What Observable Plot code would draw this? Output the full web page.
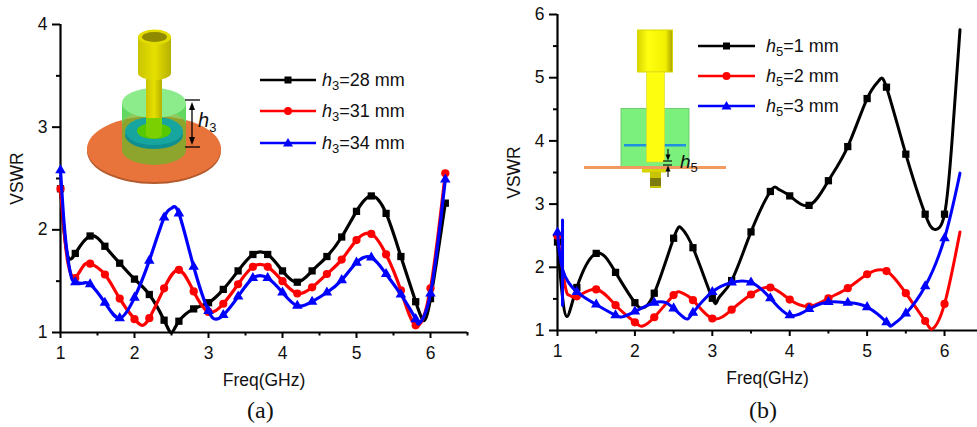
<!DOCTYPE html>
<html><head><meta charset="utf-8">
<script src="https://cdn.jsdelivr.net/npm/d3@7"></script>
<script src="https://cdn.jsdelivr.net/npm/@observablehq/plot@0.6"></script>
<style>
html,body{margin:0;padding:0;background:#fff;width:977px;height:427px;overflow:hidden}
#stage{position:relative;width:977px;height:427px;font-family:"Liberation Sans",Arial,sans-serif}
#stage>svg{position:absolute;top:0}
.cap{position:absolute;font:24px "Liberation Serif",serif;color:#111;top:397px}
</style></head><body><div id="stage"></div>
<script>
// Panel (a): h3 sweep
const a28x=[1,1.05,1.1,1.15,1.2,1.4,1.6,1.8,2,2.2,2.4,2.5,2.6,2.8,3,3.2,3.4,3.6,3.8,4,4.2,4.4,4.6,4.8,5,5.2,5.4,5.6,5.8,5.9,6,6.2];
const a28y=[2.4,1.98,1.74,1.72,1.77,1.94,1.84,1.675,1.52,1.37,1.12,1.0,1.11,1.23,1.29,1.42,1.6,1.76,1.76,1.6,1.49,1.6,1.74,1.93,2.18,2.33,2.16,1.74,1.3,1.12,1.33,2.26];
const a31x=[1,1.05,1.1,1.15,1.2,1.3,1.4,1.6,1.8,2,2.1,2.2,2.4,2.6,2.8,3,3.2,3.4,3.6,3.8,4,4.2,4.4,4.6,4.8,5,5.2,5.4,5.6,5.8,6,6.2];
const a31y=[2.4,1.98,1.68,1.55,1.53,1.64,1.67,1.565,1.33,1.13,1.07,1.14,1.43,1.61,1.4,1.2,1.28,1.47,1.64,1.64,1.5,1.38,1.44,1.57,1.71,1.9,1.96,1.76,1.41,1.07,1.43,2.55];
const a34x=[1,1.05,1.1,1.15,1.2,1.3,1.4,1.6,1.8,2,2.2,2.4,2.5,2.6,2.8,3,3.1,3.2,3.4,3.6,3.8,4,4.2,4.4,4.6,4.8,5,5.2,5.4,5.6,5.8,5.85,6,6.2];
const a34y=[2.58,2.05,1.72,1.53,1.49,1.48,1.47,1.29,1.14,1.34,1.7,2.12,2.21,2.16,1.64,1.21,1.13,1.17,1.35,1.53,1.53,1.39,1.26,1.3,1.39,1.51,1.68,1.73,1.57,1.37,1.13,1.09,1.38,2.49];
// Panel (b): h5 sweep
const b1x=[1,1.05,1.12,1.25,1.5,1.75,2,2.1,2.25,2.5,2.6,2.75,3,3.08,3.25,3.5,3.75,3.85,4,4.25,4.5,4.75,5,5.15,5.25,5.5,5.75,5.87,6,6.1,6.2];
const b1y=[2.4,1.7,1.22,1.68,2.22,1.92,1.44,1.36,1.59,2.46,2.62,2.31,1.51,1.51,1.79,2.56,3.2,3.24,3.13,2.98,3.37,3.91,4.67,4.95,4.85,3.79,2.84,2.6,2.84,4.05,5.76];
const b2x=[1,1.1,1.15,1.25,1.5,1.75,2,2.1,2.25,2.5,2.6,2.75,3,3.25,3.5,3.75,4,4.25,4.5,4.75,5,5.25,5.5,5.75,5.85,6,6.2];
const b2y=[2.5,1.7,1.56,1.54,1.65,1.4,1.13,1.07,1.21,1.56,1.6,1.48,1.19,1.33,1.57,1.68,1.49,1.38,1.51,1.67,1.89,1.94,1.59,1.15,1.03,1.42,2.56];
const b3x=[1,1.07,1.25,1.5,1.75,1.85,2,2.25,2.4,2.5,2.65,2.75,3,3.25,3.5,3.75,4,4.25,4.5,4.75,5,5.25,5.32,5.5,5.75,6,6.2];
const b3y=[2.55,1.95,1.61,1.41,1.24,1.22,1.3,1.44,1.44,1.35,1.19,1.28,1.61,1.76,1.76,1.51,1.24,1.34,1.45,1.44,1.37,1.13,1.08,1.27,1.7,2.46,3.49];
const spikeX=[1.065,1.065];
const spikeY=[1.4,2.75];
const colors=["#000000","#ff0000","#0000ff"];
const symbols=["square","circle","triangle"];
const sizes=[4.1,4.1,3.9];
const labelsA=["28","31","34"];
const labelsB=["1","2","3"];
const ticksMajorA=[1,2,3,4,5,6];
const ticksMinorA=[1.5,2.5,3.5,4.5,5.5,6.5];
const yMajorA=[1,2,3,4];
const yMinorA=[1.5,2.5,3.5];
const ticksMinorB=[1.5,2.5,3.5,4.5,5.5];
const yMajorB=[1,2,3,4,5,6];
const yMinorB=[1.5,2.5,3.5,4.5,5.5];

function table(xs,ys){return xs.map((x,i)=>({x,y:ys[i]}));}
function panel(opt){
  const marks=[];
  const axisFont={fontSize:17.5,fill:"#111"};
  marks.push(Plot.ruleX([1],{stroke:"#000",strokeWidth:2.2}));
  marks.push(Plot.ruleY([1],{stroke:"#000",strokeWidth:2.2}));
  marks.push(Plot.axisX({ticks:opt.xMajor,tickSize:6,tickPadding:8,strokeWidth:2,...axisFont,label:"Freq(GHz)",labelArrow:"none",labelAnchor:"center",labelOffset:53,tickFormat:d=>d}));
  marks.push(Plot.axisX({ticks:opt.xMinor,tickSize:3.5,strokeWidth:2,tickFormat:()=>"",label:null}));
  marks.push(Plot.axisY({ticks:opt.yMajor,tickSize:8,tickPadding:5,strokeWidth:2,...axisFont,label:"VSWR",labelArrow:"none",labelAnchor:"center",labelOffset:opt.ylo,tickFormat:d=>d}));
  marks.push(Plot.axisY({ticks:opt.yMinor,tickSize:4,strokeWidth:2,tickFormat:()=>"",label:null}));
  opt.series.forEach((s,i)=>{
    const t=table(s[0],s[1]);
    marks.push(Plot.line(t,{x:"x",y:"y",stroke:colors[i],strokeWidth:opt.sw,curve:"natural"}));
    if(opt.spike&&i==2) marks.push(Plot.line(table(spikeX,spikeY),{x:"x",y:"y",stroke:colors[i],strokeWidth:opt.sw}));
    const m=t.filter(d=>Math.abs(d.x/opt.step-Math.round(d.x/opt.step))<1e-6 && opt.mark(d.x));
    marks.push(Plot.dot(m,{x:"x",y:"y",fill:colors[i],stroke:"none",symbol:()=>symbols[i],r:sizes[i]}));
  });
  const svg=Plot.plot({width:opt.w,height:427,marginLeft:opt.ml,marginRight:opt.mr,marginTop:opt.mt,marginBottom:opt.mb,
    x:{domain:opt.xd},y:{domain:opt.yd},style:{background:"transparent",fontFamily:'"Liberation Sans",Arial,sans-serif',overflow:"visible"},marks});
  svg.style.left=opt.left+"px";
  return svg;
}
const stage=document.getElementById("stage");

// Inset illustrations and legends live in an overlay under the plots
const NS="http://www.w3.org/2000/svg";
const art=document.createElementNS(NS,"svg");
art.setAttribute("width",977);art.setAttribute("height",427);art.style.left="0";
art.innerHTML=`
<defs>
<linearGradient id="yg" x1="0" x2="1" y1="0" y2="0"><stop offset="0" stop-color="#c9c400"/><stop offset=".5" stop-color="#e6e000"/><stop offset="1" stop-color="#b5b000"/></linearGradient>
<linearGradient id="yg2" x1="0" x2="1" y1="0" y2="0"><stop offset="0" stop-color="#d8d400"/><stop offset=".3" stop-color="#ffff10"/><stop offset=".8" stop-color="#f2f000"/><stop offset="1" stop-color="#a8a400"/></linearGradient>
</defs>
<!-- (a) inset -->
<ellipse cx="154" cy="151" rx="67" ry="33" fill="#b55a2c"/>
<ellipse cx="154" cy="149" rx="67" ry="33" fill="#e8743b"/>
<path d="M122 103V150A32 15 0 0 0 186 150V103Z" fill="#6fb52a" fill-opacity=".75"/>
<path d="M122 103V125A32 15 0 0 1 186 125V103Z" fill="#62d862"/>
<ellipse cx="154" cy="103" rx="32" ry="15" fill="#8cec8c"/>
<ellipse cx="154" cy="135" rx="29" ry="14" fill="#0f8f8f"/>
<ellipse cx="154" cy="131" rx="29" ry="14" fill="#17a5a0"/>
<ellipse cx="154" cy="131" rx="17" ry="8" fill="#55c800"/>
<path d="M146 75V134A8 4 0 0 0 162 134V75Z" fill="url(#yg)"/>
<path d="M146 118V134A8 4 0 0 0 162 134V118Z" fill="#7ad000"/>
<path d="M138 37V73A16.5 7 0 0 0 171 73V37Z" fill="url(#yg)"/>
<ellipse cx="154.500" cy="37" rx="16.500" ry="7.500" fill="#e2dc00"/>
<ellipse cx="154.500" cy="37" rx="12.500" ry="5" fill="#8f8a00"/>
<g stroke="#000" stroke-width="1.3"><line x1="185" x2="200" y1="100" y2="100"/><line x1="185" x2="200" y1="147" y2="147"/><line x1="192" x2="192" y1="106" y2="141"/></g>
<path d="M192 102l-3 8h6zM192 145l-3-8h6z"/>
<text x="198" y="127" font-size="20" font-style="italic" fill="#111">h<tspan font-size="13" font-style="normal" dy="5">3</tspan></text>
<!-- (b) inset -->
<rect x="621" y="108.500" width="68" height="58" fill="#7cf07c" stroke="#63c063" stroke-width=".8"/>
<rect x="624" y="144" width="62" height="2.500" fill="#1f8fe0"/>
<rect x="637.500" y="30" width="35" height="42" fill="url(#yg2)" stroke="#d8d800" stroke-width="1"/>
<rect x="646.500" y="72" width="18" height="90" fill="#fdfd10" stroke="#d6d630" stroke-width=".6"/>
<rect x="584" y="166" width="142" height="3" fill="#f09a60"/>
<rect x="642" y="169" width="24" height="3.500" fill="#d8d400"/>
<rect x="650" y="172" width="11" height="16" fill="#c8c400"/>
<rect x="650" y="178" width="11" height="8" fill="#7d7a10"/>
<g stroke="#000" stroke-width="1.100"><line x1="663" x2="672" y1="161" y2="161"/><line x1="663" x2="672" y1="165" y2="165"/><line x1="668" x2="668" y1="149" y2="158"/><line x1="668" x2="668" y1="170" y2="177"/></g>
<path d="M668 160.500l-2.500-6h5zM668 165.500l-2.500 6h5z"/>
<text x="680" y="168" font-size="19" font-style="italic" fill="#111">h<tspan font-size="13" font-style="normal" dy="4">5</tspan></text>
`;
stage.appendChild(art);

stage.appendChild(panel({left:0,w:490,ml:60,mr:23,mt:24,mb:95,xd:[1,6.5],yd:[1,4],ylo:50,sw:3.2,step:0.2,mark:()=>true,
  xMajor:ticksMajorA,xMinor:ticksMinorA,yMajor:yMajorA,yMinor:yMinorA,
  series:[[a28x,a28y],[a31x,a31y],[a34x,a34y]]}));
stage.appendChild(panel({left:490,w:487,ml:67,mr:0,mt:14,mb:97,xd:[1,6.426],yd:[1,6],ylo:50,sw:3,step:0.25,mark:x=>x<6.1,spike:true,
  xMajor:ticksMajorA,xMinor:ticksMinorB,yMajor:yMajorB,yMinor:yMinorB,
  series:[[b1x,b1y],[b2x,b2y],[b3x,b3y]]}));

// Legends
function legend(x0,x1,tx,ys,sub,vals){
  const o=document.createElementNS(NS,"svg");
  o.setAttribute("width",977);o.setAttribute("height",427);o.style.left="0";
  let h="";
  const sym=[(x,y)=>`<rect x="${x-3.500}" y="${y-3.500}" width="7" height="7" fill="#000"/>`,
             (x,y)=>`<circle cx="${x}" cy="${y}" r="4" fill="#f00"/>`,
             (x,y)=>`<path d="M${x} ${y-5}l5 8.500h-10z" fill="#00f"/>`];
  ys.forEach((y,i)=>{
    h+=`<line x1="${x0}" x2="${x1}" y1="${y}" y2="${y}" stroke="${colors[i]}" stroke-width="2.600"/>`;
    h+=sym[i]((x0+x1)/2,y);
    h+=`<text x="${tx}" y="${y+6}" font-size="18" fill="#111"><tspan font-style="italic">h</tspan><tspan font-size="13" dy="4">${sub}</tspan><tspan dy="-4">=${vals[i]} mm</tspan></text>`;
  });
  o.innerHTML=h;stage.appendChild(o);
}
legend(260,316,322,[80,111,143],"3",labelsA);
legend(698,755,766,[46,76,106],"5",labelsB);

[["(a)",247],["(b)",749]].forEach(([t,x])=>{
  const d=document.createElement("div");d.className="cap";d.textContent=t;d.style.left=x+"px";stage.appendChild(d);
});
</script></body></html>
